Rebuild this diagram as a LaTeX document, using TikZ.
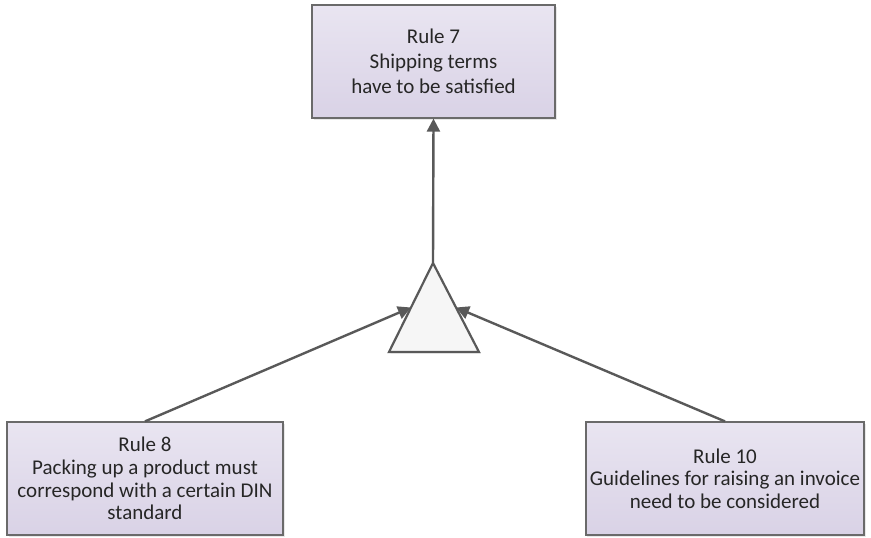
\documentclass[tikz,border=0pt]{standalone}
\usepackage{fontspec}
\setmainfont{Carlito}
\usetikzlibrary{arrows.meta,shadows,calc}
\definecolor{rulefillA}{HTML}{E9E5F1}
\definecolor{rulefillB}{HTML}{D9D2E6}
\definecolor{ruleedge}{HTML}{6A6A6A}
\definecolor{linkgray}{HTML}{595959}
\definecolor{trifill}{HTML}{F6F6F6}
\tikzset{
  rulebox/.style={draw=ruleedge, line width=1.2pt, top color=rulefillA, bottom color=rulefillB,
    minimum height=113pt, align=center, inner sep=4pt,
    font=\fontsize{21}{22.7}\selectfont, text=black!85,
    drop shadow={opacity=0.18, shadow xshift=1.5pt, shadow yshift=-1.5pt}},
  link/.style={draw=linkgray, line width=2.4pt, -{Triangle[length=13pt,width=13pt]}},
  gate/.style={draw=linkgray, line width=2.2pt, fill=trifill, line join=miter}
}
\begin{document}
\begin{tikzpicture}[x=1pt,y=-1pt]
\useasboundingbox (0,0) rectangle (871,538);

% rule boxes
\node[rulebox, minimum width=243pt, font=\fontsize{21}{25}\selectfont] (r7) at (433.5,61.5) {Rule 7\\Shipping terms\\have to be satisfied};
\node[rulebox, minimum width=276pt] (r8) at (145,478.5) {Rule 8\\Packing up a product must\\correspond with a certain DIN\\standard};
\node[rulebox, minimum width=278pt] (r10) at (725,478.5) {Rule 10\\Guidelines for raising an invoice\\need to be considered};

% AND gate (triangle) with its side midpoints
\coordinate (apex) at (433,263);
\coordinate (bl) at (389,352);
\coordinate (br) at (479,352);
\coordinate (ls) at ($(apex)!0.5!(bl)$);
\coordinate (rs) at ($(apex)!0.5!(br)$);
\path[gate, drop shadow={opacity=0.15, shadow xshift=1.5pt, shadow yshift=-1.5pt}] (apex) -- (br) -- (bl) -- cycle;

% connectors
\draw[link] (apex) -- (r7.south);
\draw[link] (r8.north) -- (ls);
\draw[link] (r10.north) -- (rs);
\end{tikzpicture}
\end{document}
